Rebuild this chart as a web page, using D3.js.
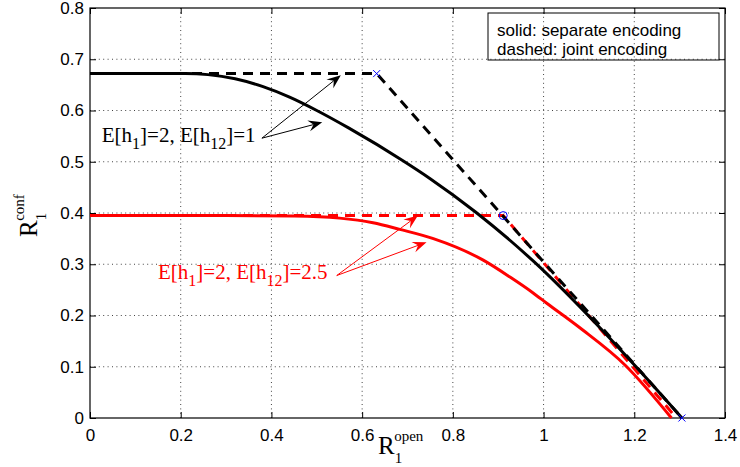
<!DOCTYPE html>
<html>
<head>
<meta charset="utf-8">
<script src="https://cdn.jsdelivr.net/npm/d3@7"></script>
<style>
  body { margin: 0; background: #fff; }
  .tick text { font-family: "Liberation Sans", Arial, sans-serif; font-size: 17px; fill: #000; }
  .grid line { stroke: #444; stroke-width: 1; stroke-dasharray: 1, 3.4; }
  .serif { font-family: "Liberation Serif", "Times New Roman", serif; }
</style>
</head>
<body>
<div id="chart"></div>
<script>
var margin = { top: 8, right: 15, bottom: 49, left: 90 },
  width = 740 - margin.left - margin.right,
  height = 467 - margin.top - margin.bottom;

// axis ticks
var xTicks = [0, 0.2, 0.4, 0.6, 0.8, 1, 1.2, 1.4];
var xTickLabels = ["0", "0.2", "0.4", "0.6", "0.8", "1", "1.2", "1.4"];
var yTicks = [0, 0.1, 0.2, 0.3, 0.4, 0.5, 0.6, 0.7, 0.8];
var yTickLabels = ["0", "0.1", "0.2", "0.3", "0.4", "0.5", "0.6", "0.7", "0.8"];

// E[h1]=2, E[h12]=1 (black)
var blackSolidX = [0, 0.21, 0.26, 0.32, 0.38, 0.44, 0.5, 0.57, 0.69, 0.75, 0.85, 0.98, 1.12, 1.21, 1.305];
var blackSolidY = [0.672, 0.672, 0.67, 0.662, 0.647, 0.626, 0.6, 0.566, 0.502, 0.467, 0.402, 0.304, 0.18, 0.094, 0];
var blackDashedX = [0, 0.632, 1.305];
var blackDashedY = [0.672, 0.672, 0];

// E[h1]=2, E[h12]=2.5 (red)
var redSolidX = [0, 0.3, 0.45, 0.55, 0.624, 0.683, 0.757, 0.867, 0.926, 0.977, 1.007, 1.08, 1.18, 1.282];
var redSolidY = [0.395, 0.395, 0.394, 0.39, 0.381, 0.368, 0.35, 0.308, 0.275, 0.244, 0.224, 0.176, 0.103, 0];
var redDashedX = [0, 0.911, 1.293];
var redDashedY = [0.395, 0.395, 0];

// markers
var crossX = [0.632, 1.305];
var crossY = [0.672, 0];
var circleX = [0.911];
var circleY = [0.395];

// annotations: text anchor and arrow start/tips in data units
var blackNote = { x: 0.026, y: 0.539, sub2: "12", tail: "]=1" };
var blackArrowStart = [0.379, 0.546];
var blackArrowTips = [[0.553, 0.669], [0.512, 0.577]];
var redNote = { x: 0.15, y: 0.272, sub2: "12", tail: "]=2.5" };
var redArrowStart = [0.544, 0.278];
var redArrowTips = [[0.723, 0.395], [0.742, 0.343]];

var legendLines = ["solid: separate encoding", "dashed: joint encoding"];

var svg = d3
  .select("#chart")
  .append("svg")
  .attr("width", width + margin.left + margin.right)
  .attr("height", height + margin.top + margin.bottom)
  .append("g")
  .attr("transform", "translate(" + margin.left + "," + margin.top + ")");

var x = d3.scaleLinear().domain([0, 1.4]).range([0, width]);
var y = d3.scaleLinear().domain([0, 0.8]).range([height, 0]);

//Grid
svg.append("g").attr("class", "grid")
  .selectAll("line").data(xTicks.slice(1, -1)).enter().append("line")
  .attr("x1", (d) => x(d)).attr("x2", (d) => x(d))
  .attr("y1", 0).attr("y2", height);
svg.append("g").attr("class", "grid")
  .selectAll("line").data(yTicks.slice(1, -1)).enter().append("line")
  .attr("y1", (d) => y(d)).attr("y2", (d) => y(d))
  .attr("x1", 0).attr("x2", width);

//Axes, ticks pointing inwards
var xAxis = d3.axisBottom(x).tickValues(xTicks)
  .tickFormat((d, i) => xTickLabels[i]).tickSizeInner(-6).tickSizeOuter(0).tickPadding(11);
var yAxis = d3.axisLeft(y).tickValues(yTicks)
  .tickFormat((d, i) => yTickLabels[i]).tickSizeInner(-6).tickSizeOuter(0).tickPadding(6);

svg.append("g").attr("class", "x axis")
  .attr("transform", "translate(0," + height + ")").call(xAxis);
svg.append("g").attr("class", "y axis").call(yAxis);
svg.append("g").attr("class", "x2 axis")
  .call(d3.axisTop(x).tickValues(xTicks).tickFormat("").tickSizeInner(-6).tickSizeOuter(0));
svg.append("g").attr("class", "y2 axis")
  .attr("transform", "translate(" + width + ",0)")
  .call(d3.axisRight(y).tickValues(yTicks).tickFormat("").tickSizeInner(-6).tickSizeOuter(0));
svg.selectAll(".domain").remove();
svg.selectAll(".tick line").attr("stroke", "#000");

svg.append("rect")
  .attr("width", width).attr("height", height)
  .attr("fill", "none").attr("stroke", "#000").attr("stroke-width", 1.2);

//Curves
var line = d3.line().x((d) => x(d[0])).y((d) => y(d[1]));
var smooth = d3.line().x((d) => x(d[0])).y((d) => y(d[1])).curve(d3.curveMonotoneX);
function zip(xs, ys) { return xs.map((v, i) => [v, ys[i]]); }

var curves = [
  { pts: zip(redSolidX, redSolidY), color: "#ff0000", dash: null, gen: smooth },
  { pts: zip(redDashedX, redDashedY), color: "#ff0000", dash: "10,7", gen: line },
  { pts: zip(blackSolidX, blackSolidY), color: "#000", dash: null, gen: smooth },
  { pts: zip(blackDashedX, blackDashedY), color: "#000", dash: "10,7", gen: line },
];
svg.selectAll(".curve").data(curves).enter().append("path")
  .attr("class", "curve")
  .attr("d", (d) => d.gen(d.pts))
  .attr("fill", "none")
  .attr("stroke", (d) => d.color)
  .attr("stroke-width", 3)
  .attr("stroke-dasharray", (d) => d.dash);

//Markers
svg.selectAll(".cross").data(zip(crossX, crossY)).enter().append("path")
  .attr("class", "cross")
  .attr("d", (d) => {
    var cx = x(d[0]), cy = y(d[1]), s = 3.5;
    return "M" + (cx - s) + "," + (cy - s) + "L" + (cx + s) + "," + (cy + s) +
      "M" + (cx - s) + "," + (cy + s) + "L" + (cx + s) + "," + (cy - s);
  })
  .attr("stroke", "#0000ff").attr("stroke-width", 1);
svg.selectAll(".circ").data(zip(circleX, circleY)).enter().append("circle")
  .attr("class", "circ")
  .attr("cx", (d) => x(d[0])).attr("cy", (d) => y(d[1])).attr("r", 4)
  .attr("fill", "none").attr("stroke", "#0000ff").attr("stroke-width", 1);

//Annotations
function arrow(start, tip, color) {
  var x0 = x(start[0]), y0 = y(start[1]), x1 = x(tip[0]), y1 = y(tip[1]);
  var dx = x1 - x0, dy = y1 - y0, len = Math.sqrt(dx * dx + dy * dy);
  var ux = dx / len, uy = dy / len, nx = -uy, ny = ux;
  var L = 14, Wd = 5.5, notch = 9;
  svg.append("line")
    .attr("x1", x0).attr("y1", y0)
    .attr("x2", x1 - ux * notch).attr("y2", y1 - uy * notch)
    .attr("stroke", color).attr("stroke-width", 1);
  svg.append("path")
    .attr("d", "M" + x1 + "," + y1 +
      "L" + (x1 - ux * L + nx * Wd) + "," + (y1 - uy * L + ny * Wd) +
      "L" + (x1 - ux * notch) + "," + (y1 - uy * notch) +
      "L" + (x1 - ux * L - nx * Wd) + "," + (y1 - uy * L - ny * Wd) + "Z")
    .attr("fill", color);
}

function note(n, color) {
  var t = svg.append("text").attr("class", "serif")
    .attr("x", x(n.x)).attr("y", y(n.y))
    .style("font-size", "21px").style("fill", color);
  t.append("tspan").text("E[h");
  t.append("tspan").attr("dy", 7).style("font-size", "16px").text("1");
  t.append("tspan").attr("dy", -7).text("]=2, E[h");
  t.append("tspan").attr("dy", 7).style("font-size", "16px").text(n.sub2);
  t.append("tspan").attr("dy", -7).text(n.tail);
}

note(blackNote, "#000");
blackArrowTips.forEach((tip) => arrow(blackArrowStart, tip, "#000"));
note(redNote, "#ff0000");
redArrowTips.forEach((tip) => arrow(redArrowStart, tip, "#ff0000"));

//Legend box
var legend = svg.append("g").attr("transform", "translate(" + (width - 237) + ",5)");
legend.append("rect")
  .attr("width", 231).attr("height", 47)
  .attr("fill", "none").attr("stroke", "#000").attr("stroke-width", 1);
legend.selectAll("text").data(legendLines).enter().append("text")
  .attr("x", 9).attr("y", (d, i) => 23 + i * 19)
  .style("font-family", "Liberation Sans, Arial, sans-serif")
  .style("font-size", "17px")
  .text((d) => d);

//Axis labels
var xl = svg.append("text").attr("class", "serif")
  .attr("x", 288).attr("y", height + 36).style("font-size", "25px");
xl.append("tspan").text("R");
xl.append("tspan").attr("dy", 9).style("font-size", "15px").text("1");
xl.append("tspan").attr("dx", -8).attr("dy", -22).style("font-size", "15px").text("open");

var yl = svg.append("text").attr("class", "serif")
  .attr("transform", "translate(-53," + (height / 2 + 24) + ") rotate(-90)")
  .style("font-size", "25px");
yl.append("tspan").text("R");
yl.append("tspan").attr("dy", 9).style("font-size", "15px").text("1");
yl.append("tspan").attr("dx", -8).attr("dy", -22).style("font-size", "15px").text("conf");
</script>
</body>
</html>
